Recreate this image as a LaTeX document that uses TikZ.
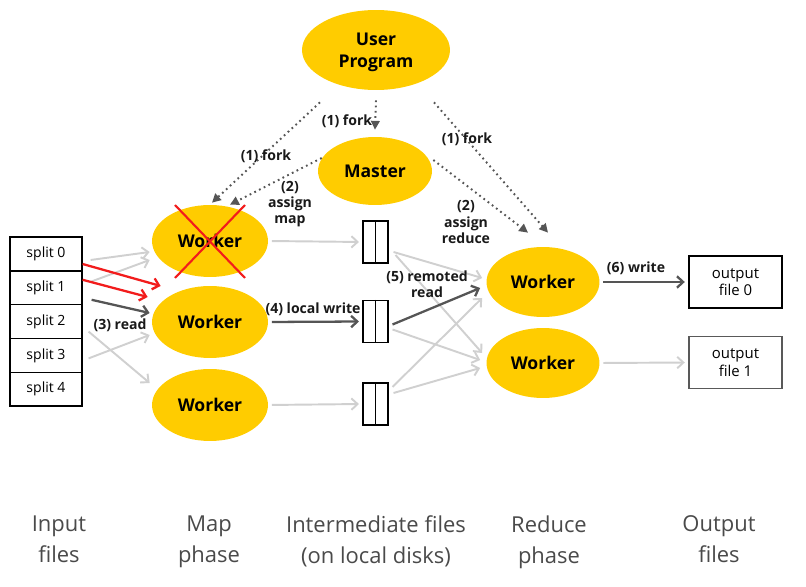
\documentclass[tikz,border=0pt]{standalone}
\usepackage{fontspec}
\setmainfont{Open Sans}
\usetikzlibrary{arrows.meta}
\usetikzlibrary{shapes.geometric}

\definecolor{mryellow}{HTML}{FFCC00}
\definecolor{flowgray}{HTML}{D0D0D0}
\definecolor{darkflow}{HTML}{555555}
\definecolor{failred}{HTML}{F21C1C}
\definecolor{phasegray}{HTML}{4A4A4A}

\begin{document}
\begin{tikzpicture}[x=0.02cm,y=-0.02cm,
  proc/.style={ellipse,fill=mryellow,inner sep=0pt,align=center,font=\bfseries\fontsize{10}{12.5}\selectfont},
  split/.style={draw,line width=0.7pt,minimum width=1.44cm,minimum height=0.676cm,inner sep=0pt,font=\fontsize{8}{9}\selectfont},
  disk/.style={draw,line width=0.6pt,minimum width=0.5cm,minimum height=0.84cm,inner sep=0pt},
  outfile/.style={draw,line width=0.8pt,minimum width=1.86cm,minimum height=1.04cm,inner sep=0pt,align=center,font=\fontsize{8.5}{10}\selectfont},
  lbl/.style={inner sep=0pt,align=center,text=black!90,font=\bfseries\fontsize{8}{9.2}\selectfont},
  phase/.style={inner sep=0pt,anchor=north,align=center,text=phasegray,font=\fontsize{12.5}{18}\selectfont},
  flow/.style={draw=flowgray,line width=1.1pt,-{Straight Barb[length=3.5pt,width=6.5pt]}},
  busy/.style={draw=darkflow,line width=1.3pt,-{Straight Barb[length=3.5pt,width=6.5pt]}},
  redo/.style={draw=failred,line width=1.3pt,-{Straight Barb[length=3.5pt,width=6.5pt]}},
  fork/.style={draw=darkflow,line width=1.1pt,dash pattern=on 1pt off 2pt,-{Triangle[length=5pt,width=5pt]}}]
\useasboundingbox (0,0) rectangle (806,587);

\node (up) [proc,minimum width=2.96cm,minimum height=1.6cm,text depth=0pt] at (376,50) {User\\Program};
\node (master) [proc,minimum width=2.28cm,minimum height=1.36cm] at (375,171) {Master};
\node (w1) [proc,minimum width=2.32cm,minimum height=1.44cm] at (210,241) {Worker};
\node (w2) [proc,minimum width=2.32cm,minimum height=1.44cm] at (210,322) {Worker};
\node (w3) [proc,minimum width=2.32cm,minimum height=1.44cm] at (210,405) {Worker};
\node (r1) [proc,minimum width=2.26cm,minimum height=1.4cm] at (543,282) {Worker};
\node (r2) [proc,minimum width=2.26cm,minimum height=1.4cm] at (543,363) {Worker};

\node (s0) [split] at (46,254) {split 0};
\node (s1) [split] at (46,287.8) {split 1};
\node (s2) [split] at (46,321.6) {split 2};
\node (s3) [split] at (46,355.4) {split 3};
\node (s4) [split] at (46,389.2) {split 4};

\node (i1) [disk] at (375.5,242) {};
\node (i2) [disk] at (375.5,321.5) {};
\node (i3) [disk] at (375.5,404) {};
\draw [line width=0.6pt] (i1.north) -- (i1.south);
\draw [line width=0.6pt] (i2.north) -- (i2.south);
\draw [line width=0.6pt] (i3.north) -- (i3.south);

\node (o0) [outfile] at (735.5,282) {output\\file 0};
\node (o1) [outfile,draw=black!65] at (735.5,362.5) {output\\file 1};

\draw [fork] ([shift={(0,10)}]up.south) -- ([shift={(0,-7)}]master.north);
\node (f1) [lbl] at (347,121) {(1) fork};
\draw [fork] ([shift={(-56,12)}]up.south) -- ([shift={(2,-2)}]w1.north);
\node (f2) [lbl] at (266,156) {(1) fork};
\draw [fork] ([shift={(58,12)}]up.south) -- ([shift={(5,-14)}]r1.north);
\node (f3) [lbl] at (467,139) {(1) fork};
\draw [fork] ([shift={(4,-13)}]master.west) -- ([shift={(20,0)}]w1.north);
\node (am) [lbl] at (290,204) {(2)\\assign\\map};
\draw [fork] ([shift={(1,-11)}]master.east) -- ([shift={(-15,-14)}]r1.north);
\node (ar) [lbl] at (466,222) {(2)\\assign\\reduce};

\draw [flow] ([shift={(8,6)}]s0.east) -- ([shift={(-2,11)}]w1.west);
\draw [flow] ([shift={(8,-6)}]s1.east) -- ([shift={(-2,19)}]w1.west);
\draw [flow] ([shift={(6,3)}]s3.east) -- ([shift={(-2,13)}]w2.west);
\draw [flow] ([shift={(6,10)}]s2.east) -- ([shift={(-2,-22)}]w3.west);
\draw [redo] ([shift={(0,10)}]s0.east) -- ([shift={(9,-36)}]w2.west);
\draw [redo] ([shift={(0,-8)}]s1.east) -- ([shift={(-4,-25)}]w2.west);
\draw [busy] ([shift={(9,12)}]s1.east) -- ([shift={(-2,-9)}]w2.west);
\node (rd) [lbl] at (120,325) {(3) read};

\draw [failred,line width=1.2pt] ([shift={(-35,-36)}]w1.center) -- ([shift={(35,37)}]w1.center);
\draw [failred,line width=1.2pt] ([shift={(35,-36)}]w1.center) -- ([shift={(-35,37)}]w1.center);

\draw [flow,shorten <=2pt,shorten >=2pt] (w1.east) -- (i1.west);
\draw [busy,shorten <=2pt,shorten >=2pt] (w2.east) -- (i2.west);
\draw [flow,shorten <=2pt,shorten >=2pt] (w3.east) -- (i3.west);
\node (lw) [lbl] at (313,309) {(4) local write};

\draw [flow] ([shift={(5,10)}]i1.east) -- ([shift={(-4,-4)}]r1.west);
\draw [flow] ([shift={(7,13)}]i1.east) -- ([shift={(-4,-10)}]r2.west);
\draw [flow] ([shift={(4,8)}]i2.east) -- ([shift={(-6,-3)}]r2.west);
\draw [flow] ([shift={(4,-17)}]i3.east) -- ([shift={(-4,16)}]r1.west);
\draw [flow] ([shift={(5,-11)}]i3.east) -- ([shift={(-6,5)}]r2.west);
\draw [busy] ([shift={(4,3)}]i2.east) -- ([shift={(-6,6)}]r1.west);
\node (rr) [lbl] at (427,284) {(5) remoted\\read};

\draw [busy,shorten <=2pt,shorten >=2pt] (r1.east) -- (o0.west);
\draw [flow,shorten <=2pt,shorten >=2pt] (r2.east) -- (o1.west);
\node (wr) [lbl] at (636,268) {(6) write};

\node (l1) [phase] at (59,515) {Input\\files};
\node (l2) [phase] at (209,515) {Map\\phase};
\node (l3) [phase] at (376,515) {Intermediate files\\(on local disks)};
\node (l4) [phase] at (549,515) {Reduce\\phase};
\node (l5) [phase] at (719,515) {Output\\files};
\end{tikzpicture}
\end{document}
